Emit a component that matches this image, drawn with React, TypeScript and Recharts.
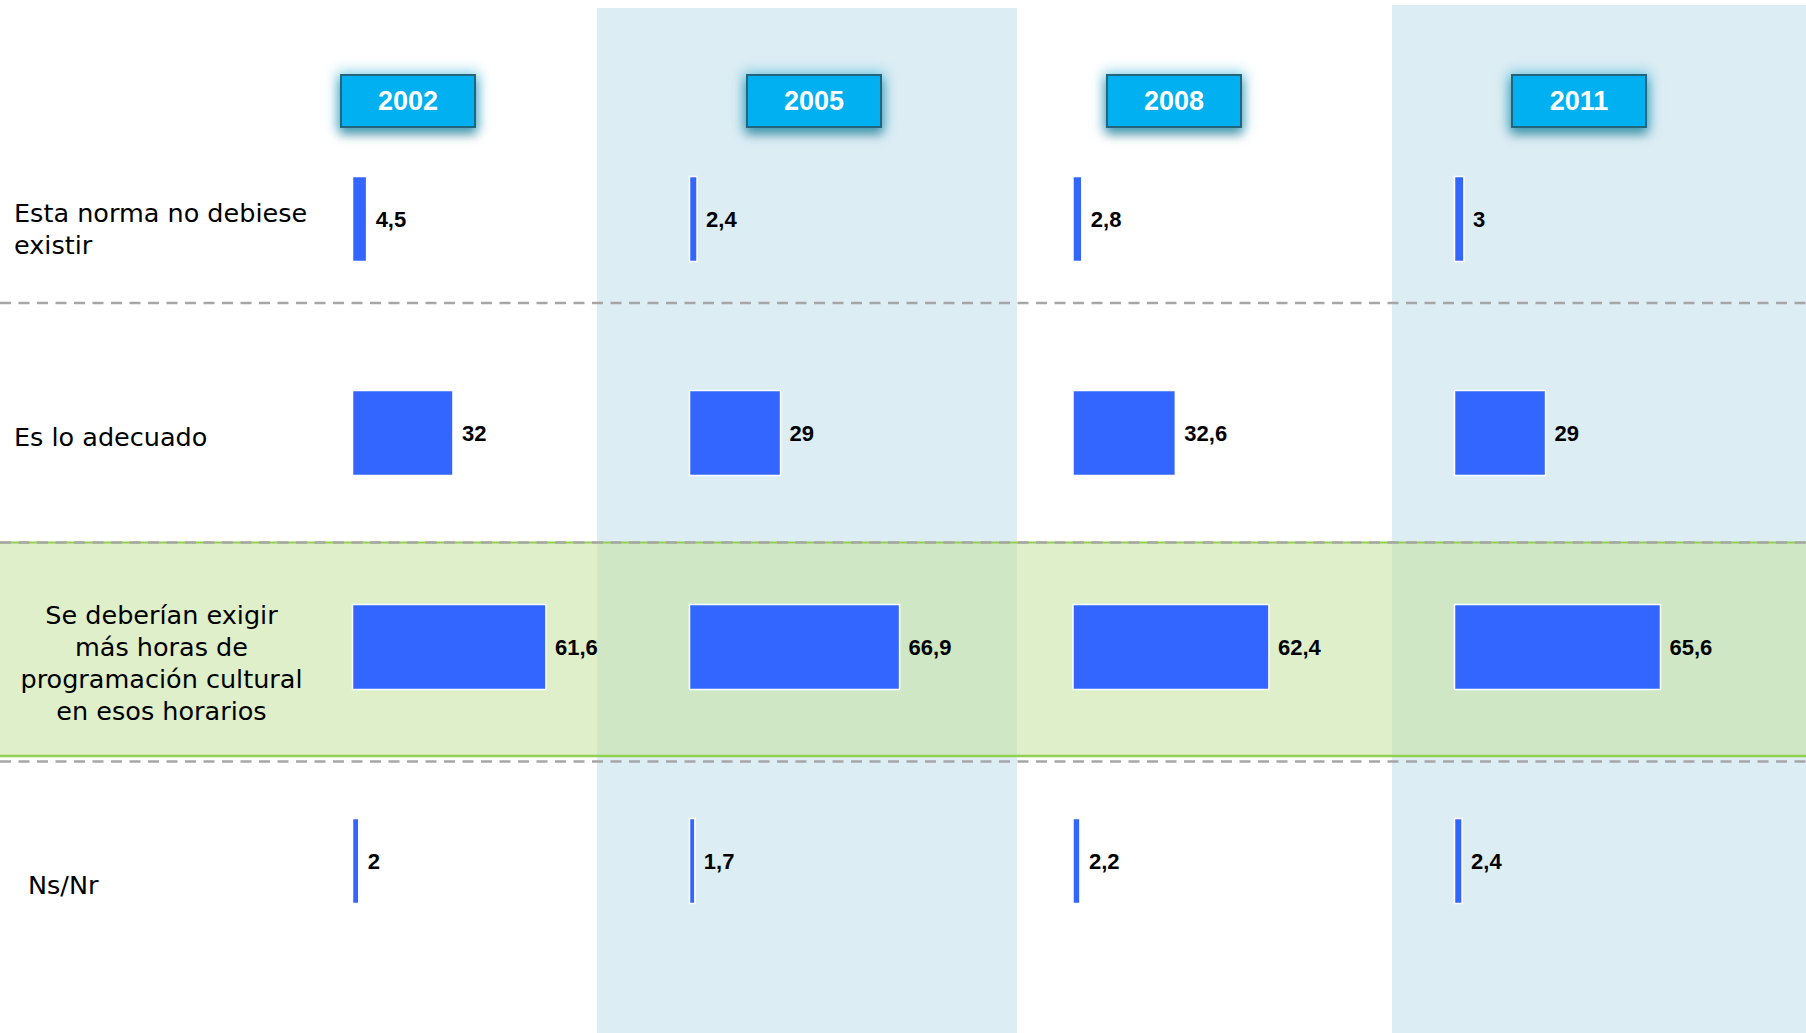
import { ComposedChart, Bar, XAxis, YAxis, LabelList } from "recharts";

// categories (rows) and one value list per survey year
const categories = [
  "Esta norma no debiese existir",
  "Es lo adecuado",
  "Se deberían exigir más horas de programación cultural en esos horarios",
  "Ns/Nr",
];
const years = ["2002", "2005", "2008", "2011"];
const values2002 = [4.5, 32, 61.6, 2];
const values2005 = [2.4, 29, 66.9, 1.7];
const values2008 = [2.8, 32.6, 62.4, 2.2];
const values2011 = [3, 29, 65.6, 2.4];

const valuesByYear: Record<string, number[]> = {
  "2002": values2002,
  "2005": values2005,
  "2008": values2008,
  "2011": values2011,
};

const data = categories.map((category, i) => {
  const row: Record<string, string | number> = { category };
  years.forEach((y) => (row["v" + y] = valuesByYear[y][i]));
  return row;
});

// layout
const W = 1806;
const H = 1033;
const LABEL_W = 340;
const PX_PER_UNIT = 3.14;
const barStart: Record<string, number> = { "2002": 352.5, "2005": 689.5, "2008": 1073, "2011": 1454.5 };
const headerLeft: Record<string, number> = { "2002": 340, "2005": 746, "2008": 1106, "2011": 1511 };

const domainFor = (year: string): [number, number] => {
  const s = barStart[year];
  return [-(s - LABEL_W) / PX_PER_UNIT, (W - s) / PX_PER_UNIT];
};

const FONT_ROWS = "'DejaVu Sans', 'Noto Sans', sans-serif";
const FONT_NUM = "'Liberation Sans', Arial, sans-serif";

// line breaks + placement of each row label (baseline offsets from band centre)
const rowLabelLayout = [
  { lines: ["Esta norma no debiese", "existir"], x: 14, anchor: "start", dy: [3, 35] },
  { lines: ["Es lo adecuado"], x: 14, anchor: "start", dy: [13.5] },
  {
    lines: ["Se deberían exigir", "más horas de", "programación cultural", "en esos horarios"],
    x: 161.5,
    anchor: "middle",
    dy: [-22.5, 9.5, 41.5, 73],
  },
  { lines: ["Ns/Nr"], x: 28, anchor: "start", dy: [33.5] },
];

function RowTick(props: any) {
  const { y, payload } = props;
  const idx = categories.indexOf(payload.value);
  const l = rowLabelLayout[idx];
  if (!l) return null;
  return (
    <g>
      {l.lines.map((line, i) => (
        <text
          key={i}
          x={l.x}
          y={y + l.dy[i]}
          textAnchor={l.anchor as any}
          fontFamily={FONT_ROWS}
          fontSize={25.5}
          fill="#000"
        >
          {line}
        </text>
      ))}
    </g>
  );
}

function Backdrop() {
  return (
    <svg width={W} height={H} style={{ position: "absolute", left: 0, top: 0 }}>
      <rect x={0} y={0} width={W} height={H} fill="#ffffff" />
      <rect x={597} y={8} width={420} height={H - 8} fill="#DDEDF4" />
      <rect x={1392} y={5} width={W - 1392} height={H - 5} fill="#DDEDF4" />
      <rect x={0} y={542.5} width={W} height={213.5} fill="rgb(197,227,162)" fillOpacity={0.57} />
      <line x1={0} x2={W} y1={542.5} y2={542.5} stroke="#92D050" strokeWidth={2} />
      <line x1={0} x2={W} y1={756} y2={756} stroke="#92D050" strokeWidth={2.5} />
      {[303, 542.5, 761.5].map((y) => (
        <line key={y} x1={0} x2={W} y1={y} y2={y} stroke="#A6A6A6" strokeWidth={2.5} strokeDasharray="11 7.5" />
      ))}
    </svg>
  );
}

function YearBox({ year }: { year: string }) {
  return (
    <div
      style={{
        position: "absolute",
        left: headerLeft[year],
        top: 74,
        width: 136,
        height: 54,
        boxSizing: "border-box",
        background: "#00B0F0",
        border: "2px solid #23657C",
        boxShadow: "0 0 12px 3px rgba(0,170,215,0.4), 0 6px 10px rgba(20,95,115,0.65)",
        color: "#fff",
        fontFamily: FONT_NUM,
        fontWeight: 700,
        fontSize: 27,
        display: "flex",
        alignItems: "center",
        justifyContent: "center",
      }}
    >
      {year}
    </div>
  );
}

const fmt = (v: any) => String(v).replace(".", ",");

export default function App() {
  return (
    <div style={{ position: "absolute", left: 0, top: 0, width: W, height: H, overflow: "hidden" }}>
      <Backdrop />
      <div style={{ position: "absolute", left: 0, top: 0 }}>
        <ComposedChart
          width={W}
          height={H}
          data={data}
          layout="vertical"
          margin={{ top: 111.5, right: 0, bottom: 65.5, left: 0 }}
        >
          {years.map((y, i) => (
            <YAxis
              key={"y" + y}
              yAxisId={y}
              type="category"
              dataKey="category"
              hide={i !== 0}
              width={LABEL_W}
              axisLine={false}
              tickLine={false}
              interval={0}
              tick={i === 0 ? (p: any) => <RowTick {...p} /> : false}
            />
          ))}
          {years.map((y) => (
            <XAxis
              key={"x" + y}
              xAxisId={y}
              type="number"
              scale="linear"
              domain={domainFor(y)}
              allowDataOverflow
              hide
            />
          ))}
          {years.map((y) => (
            <Bar
              key={"b" + y}
              dataKey={"v" + y}
              xAxisId={y}
              yAxisId={y}
              barSize={85}
              fill="#3366FF"
              stroke="#ffffff"
              strokeWidth={1.5}
              isAnimationActive={false}
            >
              <LabelList
                dataKey={"v" + y}
                position="right"
                offset={9}
                formatter={fmt}
                fill="#000"
                fontFamily={FONT_NUM}
                fontWeight={700}
                fontSize={22}
              />
            </Bar>
          ))}
        </ComposedChart>
      </div>
      {years.map((y) => (
        <YearBox key={y} year={y} />
      ))}
    </div>
  );
}
